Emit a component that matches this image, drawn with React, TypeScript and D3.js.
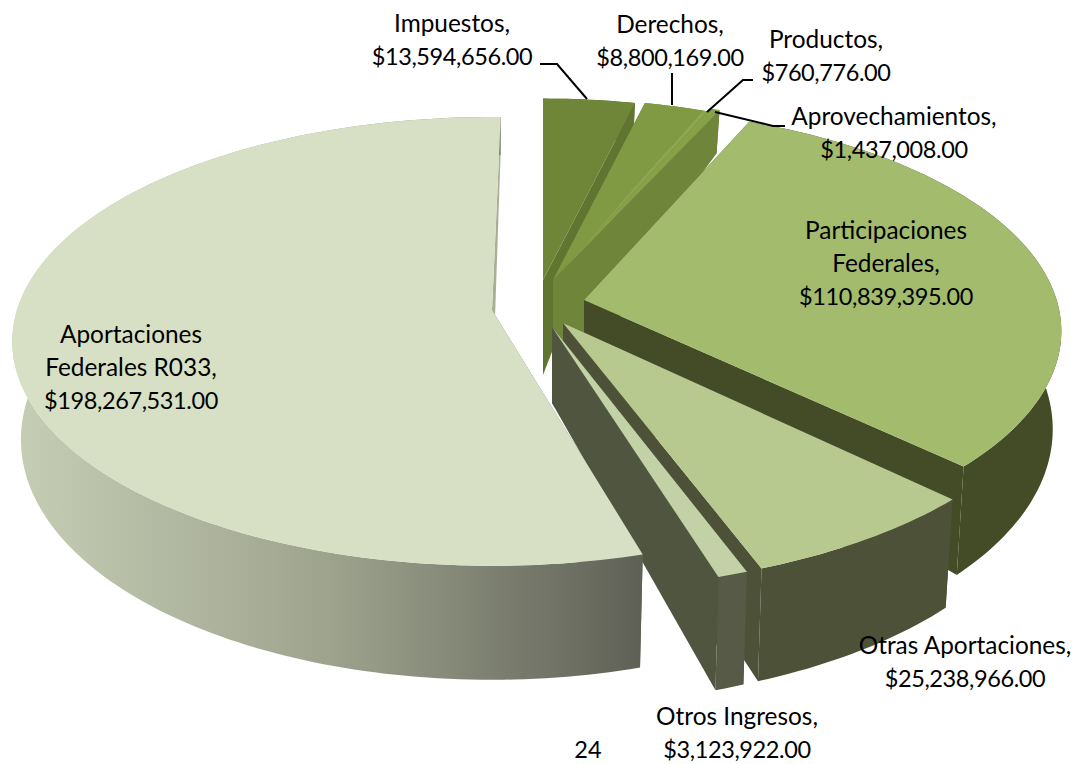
import React from "react";
import * as d3 from "d3";

const categories = ["Impuestos","Derechos","Productos","Aprovechamientos","Participaciones Federales","Otras Aportaciones","Otros Ingresos","Aportaciones Federales R033"];
const values = [13594656,8800169,760776,1437008,110839395,25238966,3123922,198267531];
const topColors = ["#6f8639","#7f9a43","#8ba84c","#86a148","#a3bb6c","#b7c98f","#c3d2a6","#d7e0c4"];
const wallColors = ["#5f7530","#6c8538","#6f853a","#6f853a","#434c27","#4c5138","#50553f","url(#aportGrad)"];
const rimColors = ["#5f7530","#6c8538","#6f853a","#6f853a","#434c27","#4c5138","#565a46","url(#aportGrad)"];
// explosion of each slice on the page: apex x, apex y, wall height at apex, radius scale, rotation in degrees
const apexX = [543,553,553,553,584,563,552,492];
const apexY = [280,280,280,280,300,323,327,310];
const apexDepth = [95,95,95,95,60,60,76,95];
const radiusScale = [0.94,0.94,0.94,0.955,0.995,1.035,1.03,1];
const rotation = [0,0,0,0,-1.2,-0.3,0,1.2];
const drawOrder = [0,1,2,3,4,5,6,7];
const labels: [string[], number, number][] = [
  [["Impuestos,","$13,594,656.00"],452,24],
  [["Derechos,","$8,800,169.00"],670,25],
  [["Productos,","$760,776.00"],826,40],
  [["Aprovechamientos,","$1,437,008.00"],894,117],
  [["Participaciones","Federales,","$110,839,395.00"],886,231],
  [["Otras Aportaciones,","$25,238,966.00"],965,646],
  [["Otros Ingresos,","$3,123,922.00"],737,717],
  [["Aportaciones","Federales R033,","$198,267,531.00"],131,335],
];
const leaders = [
  [[540,64],[557,64],[587,99]],
  [[672,73],[672,105]],
  [[753,80],[743,80],[707,112]],
  [[785,126],[773,126],[715,112]],
];
const RX = 475, RY = 220, PERSP = 0.14;
const depth = d3.scaleLinear().domain([-1,0,1]).range([38,95,114]);
const pie = d3.pie<number>().sort(null).startAngle(0).endAngle(2*Math.PI);
const arcs = pie(values);
const line = d3.line();

function topPt(i:number,a0:number):[number,number]{
  const a=a0+rotation[i]*Math.PI/180;
  const X=Math.sin(a),Y=-Math.cos(a),s=radiusScale[i]/(1-PERSP*Y);
  return [apexX[i]+RX*X*s,apexY[i]+RY*Y*s];
}
function botPt(i:number,a:number):[number,number]{
  const [x,y]=topPt(i,a);
  return [x-0.018*(x-apexX[i]),y+depth(-Math.cos(a))];
}
function samples(a0:number,a1:number){
  const n=Math.max(2,Math.ceil((a1-a0)/0.02));
  return d3.range(n+1).map(k=>a0+(a1-a0)*k/n);
}

export default function App(){
  return (
    <svg width={1075} height={764} style={{position:"absolute",left:0,top:0,background:"#fff"}} fontFamily="Lato, Carlito, sans-serif" fontSize={24.4}>
      <defs>
        <linearGradient id="aportGrad" gradientUnits="userSpaceOnUse" x1={12} x2={645} y1={0} y2={0}>
          <stop offset="0" stopColor="#c6ceb4"/>
          <stop offset="0.5" stopColor="#9ea38e"/>
          <stop offset="1" stopColor="#5e6055"/>
        </linearGradient>
      </defs>
      {drawOrder.map(i=>{
        const {startAngle:a0,endAngle:a1}=arcs[i];
        const ap:[number,number]=[apexX[i],apexY[i]];
        const apB:[number,number]=[apexX[i],apexY[i]+apexDepth[i]];
        const as=samples(a0,a1);
        const top=as.map(a=>topPt(i,a));
        const bot=as.map(a=>botPt(i,a));
        const startWall=[ap,topPt(i,a0),botPt(i,a0),apB] as [number,number][];
        const endWall=[ap,topPt(i,a1),botPt(i,a1),apB] as [number,number][];
        return (
          <g key={categories[i]}>
            <path d={line(startWall)+"Z"} fill={wallColors[i]}/>
            <path d={line(endWall)+"Z"} fill={i===7?"#a9af97":wallColors[i]}/>
            <path d={line([...top,...bot.slice().reverse()])+"Z"} fill={rimColors[i]}/>
            <path d={line([ap,...top])+"Z"} fill={topColors[i]}/>
          </g>
        );
      })}
      {leaders.map((l,i)=>(
        <path key={i} d={line(l as [number,number][])!} fill="none" stroke="#000" strokeWidth={2}/>
      ))}
      {labels.map(([ls,x,y],i)=>(
        <text key={i} textAnchor="middle" fill="#000">
          {ls.map((t,k)=>(
            <tspan key={k} x={x} y={y+8+k*33} fontSize={t.startsWith("$")?23.5:24.4} letterSpacing={t.startsWith("$")?-0.4:0}>{t}</tspan>
          ))}
        </text>
      ))}
      <text x={588} y={758} textAnchor="middle" fill="#000" fontSize={23.5}>24</text>
    </svg>
  );
}
